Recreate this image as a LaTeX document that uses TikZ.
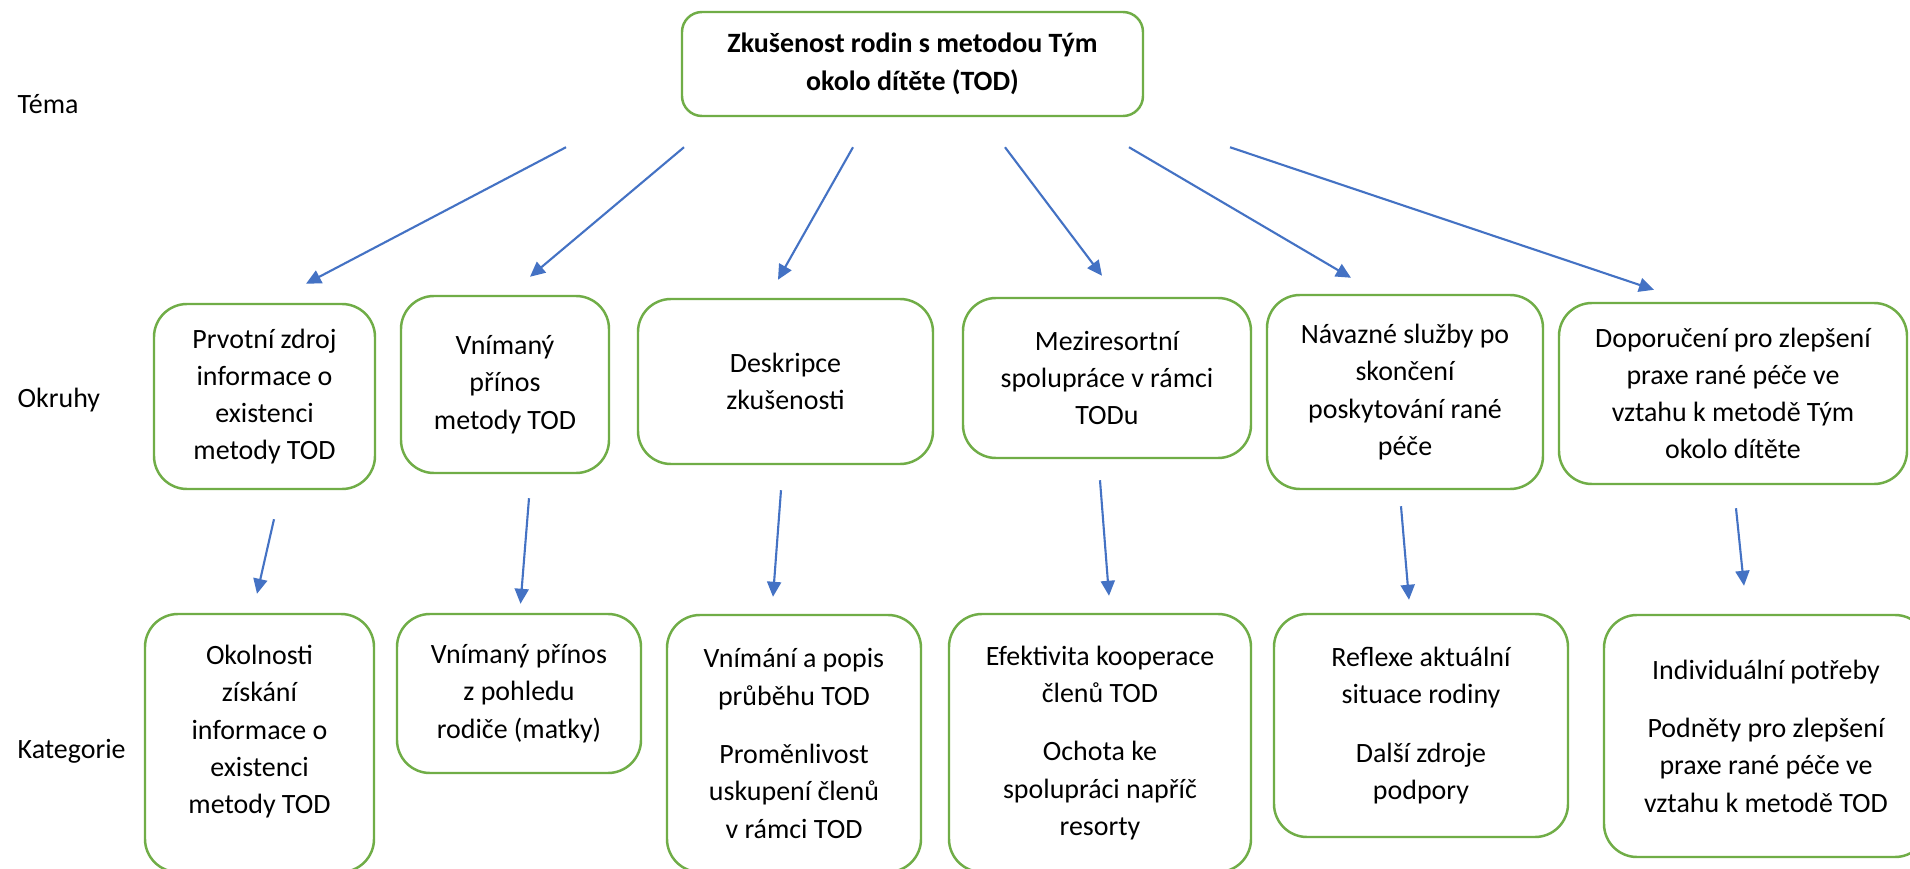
\documentclass[tikz,border=0pt]{standalone}
\usepackage{fontspec}
\setmainfont{Carlito}
\usepackage{tikz}
\usetikzlibrary{arrows.meta,calc}
\definecolor{ink}{HTML}{000000}
\definecolor{leaf}{HTML}{70AD47}
\definecolor{sky}{HTML}{4472C4}
\tikzset{
  every node/.style={font=\fontsize{7.95}{10.6}\selectfont,text=ink,inner sep=0pt},
  rowlabel/.style={anchor=base west},
  box/.style={draw=leaf,line width=.7pt,fill=white,rounded corners=3.3mm,align=center},
  dim/.style 2 args={minimum width=#1cm,minimum height=#2cm},
  flow/.style={-{Triangle[length=1.5mm,width=1.4mm]},line width=.6pt,draw=sky},
}

\begin{document}
\begin{tikzpicture}[x=1cm,y=1cm]
\path[use as bounding box] (0,0) rectangle (19.10,8.68);
\fill[white] (0,0) rectangle (19.10,8.68);
\clip (0,0) rectangle (19.10,8.68);
\node[rowlabel] (rtema) at (.17,7.55) {Téma};
\node[rowlabel] (rokruhy) at (.17,4.61) {Okruhy};
\node[rowlabel] (rkat) at (.17,1.10) {Kategorie};
% theme
\node[box,rounded corners=2mm,dim={4.61}{1.04},font=\bfseries\fontsize{7.95}{10.8}\selectfont] (tema) at (9.125,8.04) {Zkušenost rodin s metodou Tým\\okolo dítěte (TOD)};
% okruhy
\node[box,dim={2.21}{1.85}] (o1) at (2.645,4.715) {Prvotní zdroj\\informace o\\existenci\\metody TOD};
\node[box,dim={2.08}{1.77}] (o2) at (5.05,4.835) {Vnímaný\\přínos\\metody TOD};
\node[box,dim={2.95}{1.65}] (o3) at (7.855,4.865) {Deskripce\\zkušenosti};
\node[box,dim={2.88}{1.60}] (o4) at (11.07,4.90) {Meziresortní\\spolupráce v rámci\\TODu};
\node[box,dim={2.76}{1.94}] (o5) at (14.05,4.76) {Návazné služby po\\skončení\\poskytování rané\\péče};
\node[box,dim={3.48}{1.81}] (o6) at (17.33,4.745) {Doporučení pro zlepšení\\praxe rané péče ve\\vztahu k metodě Tým\\okolo dítěte};
% kategorie (the lowest ones run past the page edge)
\node[box,dim={2.29}{2.58}] (k1) at (2.595,1.25) {Okolnosti\\získání\\informace o\\existenci\\metody TOD\\[-2.9pt]\mbox{}};
\node[box,dim={2.44}{1.59}] (k2) at (5.19,1.745) {Vnímaný přínos\\z pohledu\\rodiče (matky)};
\node[box,dim={2.54}{2.57}] (k3) at (7.94,1.245) {Vnímání a popis\\průběhu TOD\\[6pt]Proměnlivost\\uskupení členů\\v rámci TOD};
\node[box,dim={3.02}{2.58}] (k4) at (11.00,1.25) {Efektivita kooperace\\členů TOD\\[6pt]Ochota ke\\spolupráci napříč\\resorty};
\node[box,dim={2.94}{2.23}] (k5) at (14.21,1.425) {Reflexe aktuální\\situace rodiny\\[6pt]Další zdroje\\podpory};
\node[box,dim={3.24}{2.42}] (k6) at (17.66,1.32) {Individuální potřeby\\[6pt]Podněty pro zlepšení\\praxe rané péče ve\\vztahu k metodě TOD};
% arrows theme -> okruhy
\draw[flow] ([shift={(-3.465,-.30)}]tema.south) -- ([shift={(.415,.19)}]o1.north);
\draw[flow] ([shift={(-2.285,-.30)}]tema.south) -- ([shift={(.25,.18)}]o2.north);
\draw[flow] ([shift={(-.595,-.30)}]tema.south) -- ([shift={(-.075,.18)}]o3.north);
\draw[flow] ([shift={(.925,-.30)}]tema.south) -- ([shift={(-.05,.21)}]o4.north);
\draw[flow] ([shift={(2.165,-.30)}]tema.south) -- ([shift={(-.54,.16)}]o5.north);
\draw[flow] ([shift={(3.175,-.30)}]tema.south) -- ([shift={(-.79,.12)}]o6.north);
% arrows okruhy -> kategorie
\draw[flow] ([shift={(.095,-.29)}]o1.south) -- ([shift={(-.025,.19)}]k1.north);
\draw[flow] ([shift={(.24,-.24)}]o2.south) -- ([shift={(.015,.09)}]k2.north);
\draw[flow] ([shift={(-.045,-.25)}]o3.south) -- ([shift={(-.21,.17)}]k3.north);
\draw[flow] ([shift={(-.07,-.21)}]o4.south) -- ([shift={(.09,.17)}]k4.north);
\draw[flow] ([shift={(-.04,-.16)}]o5.south) -- ([shift={(-.12,.13)}]k5.north);
\draw[flow] ([shift={(.03,-.23)}]o6.south) -- ([shift={(-.22,.28)}]k6.north);
\end{tikzpicture}
\end{document}
